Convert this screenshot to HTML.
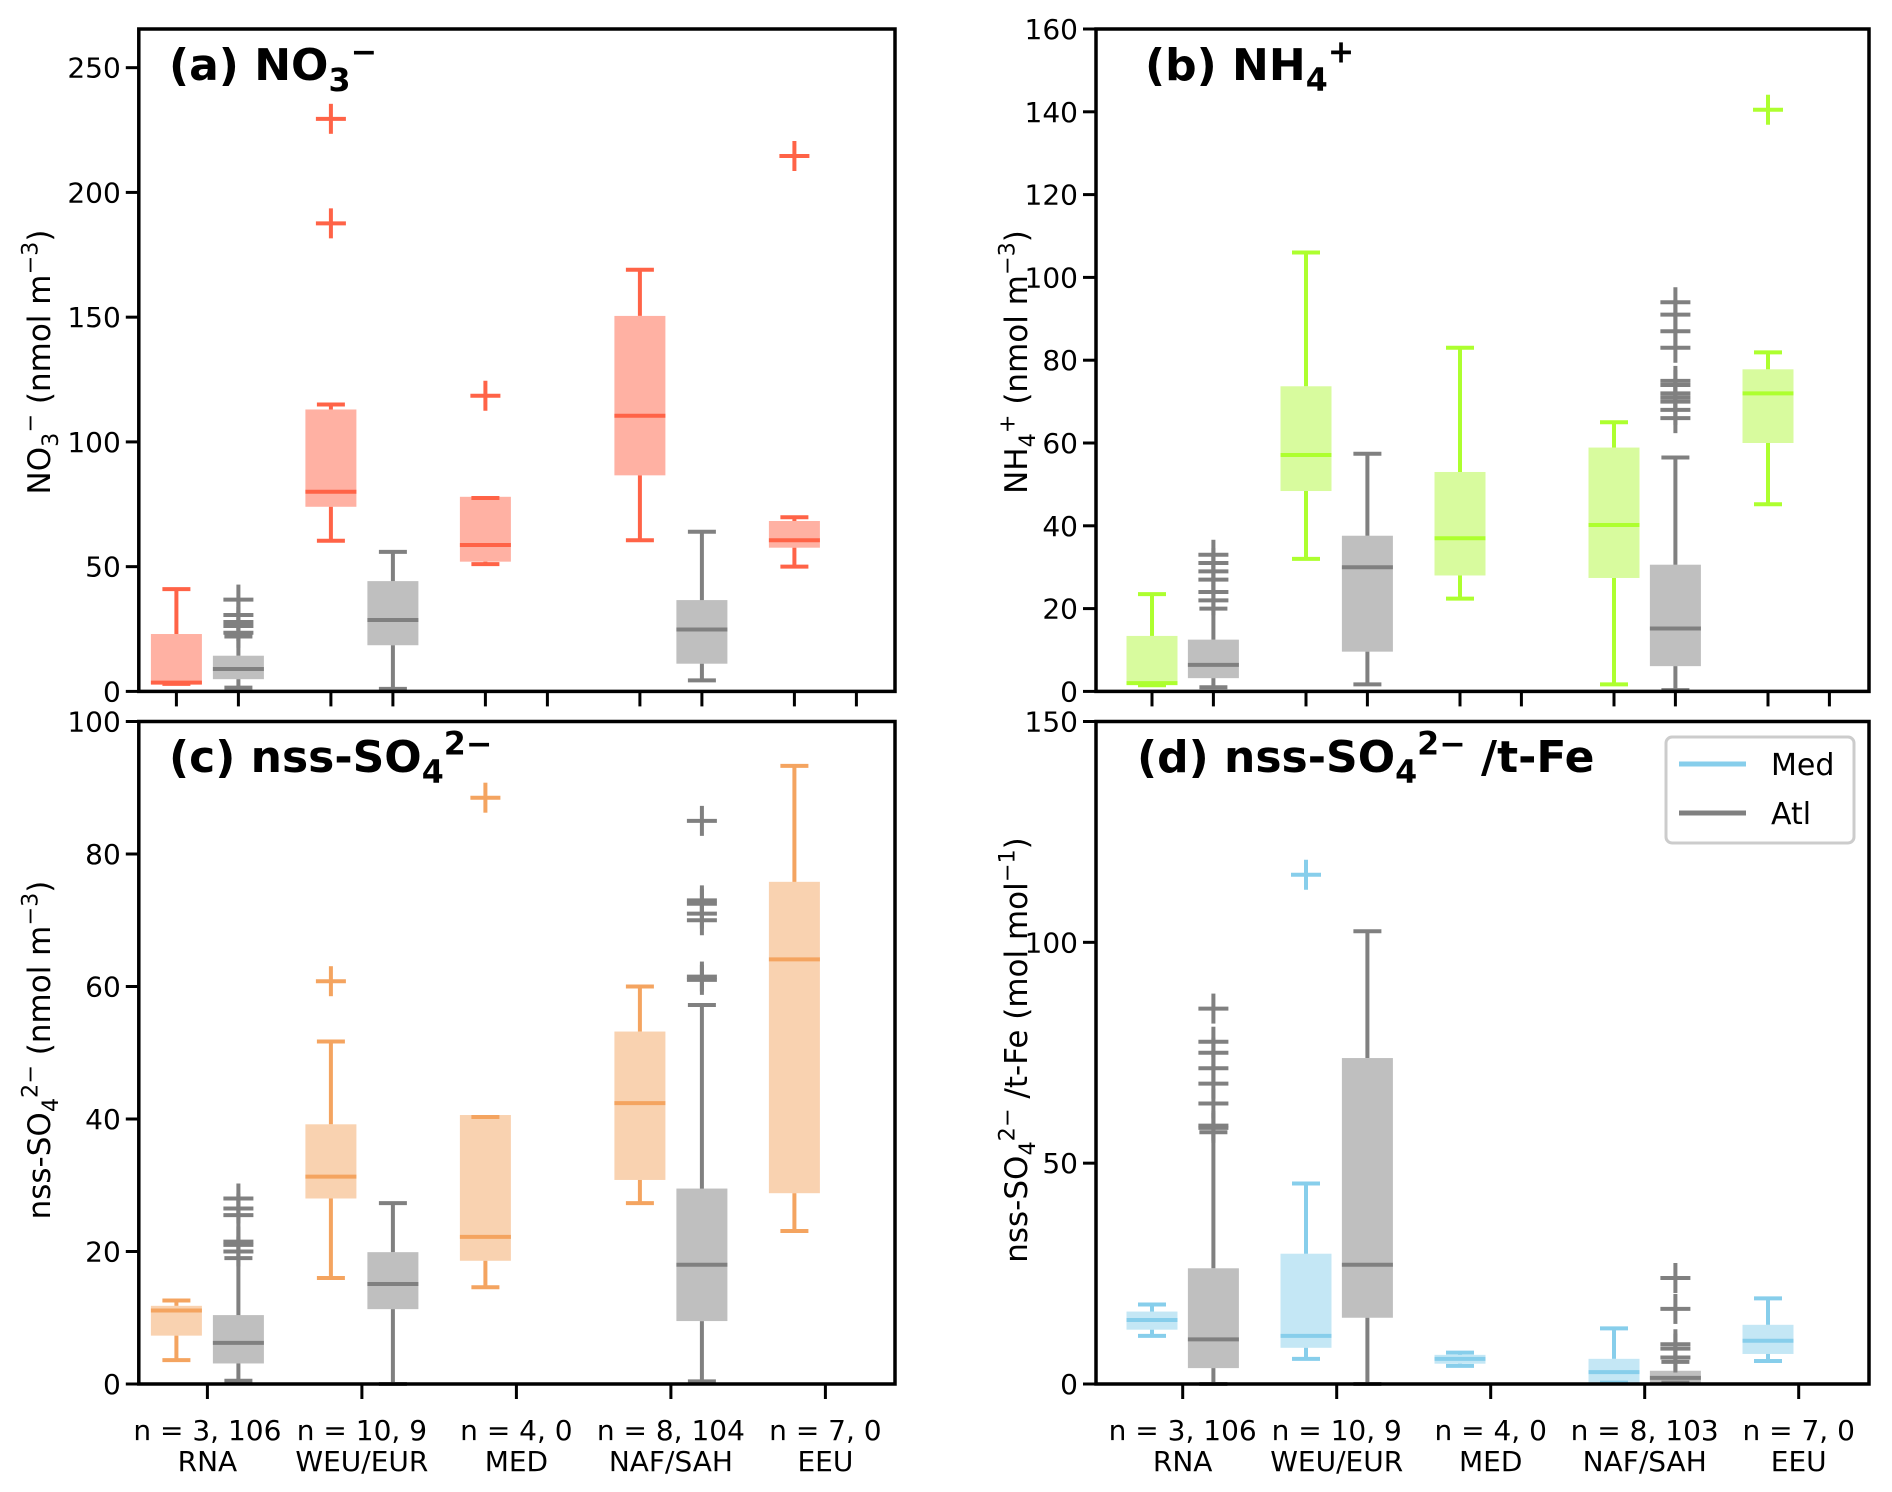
<!DOCTYPE html>
<html><head><meta charset="utf-8"><style>
html,body{margin:0;padding:0;background:#fff}
svg{display:block;font-family:"DejaVu Sans","Liberation Sans",sans-serif}
</style></head><body>
<svg id="fig" width="1892" height="1492" viewBox="0 0 1892 1492" xmlns="http://www.w3.org/2000/svg"></svg>
<script>
// ---------- data (stats = [whiskerLow, q1, median, q3, whiskerHigh]) ----------
const categories = ["RNA","WEU/EUR","MED","NAF/SAH","EEU"];
const countsTop = ["n = 3, 106","n = 10, 9","n = 4, 0","n = 8, 104","n = 7, 0"];
const countsBottom = ["n = 3, 106","n = 10, 9","n = 4, 0","n = 8, 103","n = 7, 0"];

const aMed = [[3,3,3.5,23,41],[60.4,74,80,113,115],[51,52,58.7,78,77.5],[60.6,86.6,110.5,150.5,169],[50,57.6,60.6,68.3,69.8]];
const aAtl = [[1.5,4.9,9,14.3,22],[1,18.5,28.6,44.2,55.9],null,[4.4,11.1,24.8,36.6,64],null];
const aMedFliers = [[],[229.5,187.6],[118.5],[],[214.6]];
const aAtlFliers = [[23.5,26.2,27.8,30.6,36.8],[],[],[],[]];

const bMed = [[1.5,1.7,2,13.4,23.5],[32,48.4,57.1,73.7,106],[22.4,28,37,53,83],[1.7,27.4,40.2,58.9,65],[45.2,60,72,77.8,81.9]];
const bAtl = [[1,3.2,6.4,12.5,20],[1.7,9.6,30,37.6,57.4],null,[0.3,6.1,15.2,30.6,56.5],null];
const bMedFliers = [[],[],[],[],[140.5]];
const bAtlFliers = [[22,24,27,29,31,33],[],[],[66,68,70,71,72,74,75,83,87,91,94],[]];

const cMed = [[3.6,7.3,11.1,11.8,12.6],[16,28,31.3,39.2,51.7],[14.6,18.6,22.2,40.6,40.3],[27.3,30.8,42.4,53.2,60],[23.1,28.8,64.1,75.8,93.3]];
const cAtl = [[0.5,3.1,6.2,10.4,19],[0,11.3,15.1,19.9,27.3],null,[0.4,9.5,18,29.5,57.2],null];
const cMedFliers = [[],[60.8],[88.5],[],[]];
const cAtlFliers = [[20,21,21.5,25.5,26.5,28],[],[],[61,61.5,70,71,72.5,73,85],[]];

const dMed = [[10.9,12.3,14.5,16.4,18],[5.7,8.2,10.9,29.5,45.4],[4.1,4.6,5.7,6.6,7.1],[0.3,0.3,2.7,5.7,12.6],[5.2,6.8,9.8,13.4,19.4]];
const dAtl = [[0,3.6,10.1,26.2,57],[0,15,27,73.8,102.5],null,[0.3,0.3,1.4,3,5],null];
const dMedFliers = [[],[115.3],[],[],[]];
const dAtlFliers = [[58,58.5,63.5,68,71.5,75,77.5,85],[],[],[6,8,9,17,24],[]];

const aTicks = [0,50,100,150,200,250];
const bTicks = [0,20,40,60,80,100,120,140,160];
const cTicks = [0,20,40,60,80,100];
const dTicks = [0,50,100,150];

// ---------- drawing ----------
const NS="http://www.w3.org/2000/svg";
const svg=document.getElementById('fig');
function mk(tag,attrs,parent){const e=document.createElementNS(NS,tag);for(const k in attrs)e.setAttribute(k,attrs[k]);(parent||svg).appendChild(e);return e;}

const panels=[
 {id:'a',L:138.8,R:895,T:29,B:691.4,ymax:265.5,ticks:aTicks,med:aMed,atl:aAtl,mf:aMedFliers,af:aAtlFliers,c:'#ff6347',f:'#ffb1a3',x0:176.4,step:154.5,off:62,pairTicks:true,
  title:[['(a) NO',0],['3',1],['−',2]],ylab:[['NO',0],['3',1],['−',2],['   (nmol m',0],['−3',2],[')',0]],tx:169,ty:80,lx:50,ly:362},
 {id:'b',L:1096,R:1869,T:29,B:691.4,ymax:160,ticks:bTicks,med:bMed,atl:bAtl,mf:bMedFliers,af:bAtlFliers,c:'#adff2f',f:'#d8fb9e',x0:1152,step:154,off:61.4,pairTicks:true,
  title:[['(b) NH',0],['4',1],['+',2]],ylab:[['NH',0],['4',1],['+',2],['   (nmol m',0],['−3',2],[')',0]],tx:1145,ty:80,lx:1027,ly:362},
 {id:'c',L:138.8,R:895,T:721.5,B:1384,ymax:100,ticks:cTicks,med:cMed,atl:cAtl,mf:cMedFliers,af:cAtlFliers,c:'#f4a460',f:'#f9d2b0',x0:176.4,step:154.5,off:62,pairTicks:false,labels:countsTop,
  title:[['(c) nss-SO',0],['4',1],['2−',2]],ylab:[['nss-SO',0],['4',1],['2−',2],['   (nmol m',0],['−3',2],[')',0]],tx:169,ty:772,lx:50,ly:1050},
 {id:'d',L:1096,R:1869,T:721.5,B:1384,ymax:150,ticks:dTicks,med:dMed,atl:dAtl,mf:dMedFliers,af:dAtlFliers,c:'#87ceeb',f:'#c4e7f5',x0:1152,step:154,off:61.4,pairTicks:false,labels:countsBottom,
  title:[['(d) nss-SO',0],['4',1],['2−',2],[' /t-Fe',0]],ylab:[['nss-SO',0],['4',1],['2−',2],[' /t-Fe  (mol mol',0],['−1',2],[')',0]],tx:1137,ty:772,lx:1027,ly:1050}
];

function rich(el,parts,size){
  let prev=0;
  parts.forEach(([t,k])=>{
    const ts=mk('tspan',{},el);
    const want = k===1? size*0.25 : k===2? -size*0.4 : 0;
    const dy = want - prev; prev = want;
    if(dy) ts.setAttribute('dy',dy);
    if(k) ts.setAttribute('font-size',size*0.72);
    ts.textContent=t;
  });
}

panels.forEach(p=>{
  const g=mk('g',{});
  
  
  const y=v=>p.B-(v/p.ymax)*(p.B-p.T);
  const xm=i=>p.x0+i*p.step;
  const xa=i=>p.x0+i*p.step+p.off;
  const W=51, CAP=28, LW=4;

  function box(s,x,col,fill,nm){
    if(!s) return;
    const bg=mk('g',{},g);
    
    
    mk('rect',{x:x-W/2,y:y(s[3]),width:W,height:Math.max(1,y(s[1])-y(s[3])),fill:fill,stroke:'none'},bg);
    mk('line',{x1:x,x2:x,y1:y(s[3]),y2:y(s[4]),stroke:col,'stroke-width':LW},bg);
    mk('line',{x1:x,x2:x,y1:y(s[1]),y2:y(s[0]),stroke:col,'stroke-width':LW},bg);
    mk('line',{x1:x-CAP/2,x2:x+CAP/2,y1:y(s[4]),y2:y(s[4]),stroke:col,'stroke-width':LW},bg);
    mk('line',{x1:x-CAP/2,x2:x+CAP/2,y1:y(s[0]),y2:y(s[0]),stroke:col,'stroke-width':LW},bg);
    mk('line',{x1:x-W/2,x2:x+W/2,y1:y(s[2]),y2:y(s[2]),stroke:col,'stroke-width':LW},bg);
  }
  function fl(arr,x,col,nm){
    arr.forEach(v=>{
      const pg=mk('g',{},g);
      
      
      mk('line',{x1:x-15,x2:x+15,y1:y(v),y2:y(v),stroke:col,'stroke-width':LW},pg);
      mk('line',{x1:x,x2:x,y1:y(v)-15,y2:y(v)+15,stroke:col,'stroke-width':LW},pg);
    });
  }
  categories.forEach((c,i)=>{
    box(p.med[i],xm(i),p.c,p.f,'med-box-'+i);
    box(p.atl[i],xa(i),'#808080','#bfbfbf','atl-box-'+i);
    fl(p.mf[i],xm(i),p.c,'med-outlier');
    fl(p.af[i],xa(i),'#808080','atl-outlier');
  });
  const fr=mk('rect',{x:p.L,y:p.T,width:p.R-p.L,height:p.B-p.T,fill:'none',stroke:'#000','stroke-width':3.5},g);
  
  
  p.ticks.forEach(v=>{
    mk('line',{x1:p.L-13,x2:p.L,y1:y(v),y2:y(v),stroke:'#000','stroke-width':3}, g);
    const t=mk('text',{x:p.L-18,y:y(v)+10,'text-anchor':'end','font-size':28,fill:'#000'},g);
    
    
    t.textContent=v;
  });
  categories.forEach((c,i)=>{
    const xs=p.pairTicks?[xm(i),xa(i)]:[(xm(i)+xa(i))/2];
    xs.forEach(x=>mk('line',{x1:x,x2:x,y1:p.B,y2:p.B+15,stroke:'#000','stroke-width':3},g));
    if(!p.pairTicks){
      const cx=(xm(i)+xa(i))/2;
      const t1=mk('text',{x:cx,y:p.B+56,'text-anchor':'middle','font-size':28},g);
      
      
      t1.textContent=p.labels[i];
      const t2=mk('text',{x:cx,y:p.B+87,'text-anchor':'middle','font-size':28},g);
      
      
      t2.textContent=c;
    }
  });
  const tt=mk('text',{x:p.tx,y:p.ty,'font-size':44,'font-weight':'bold'},g);
  
  
  rich(tt,p.title,44);
  const yl=mk('text',{x:0,y:0,'font-size':31,'text-anchor':'middle',transform:`translate(${p.lx},${p.ly}) rotate(-90)`},g);
  
  
  rich(yl,p.ylab,31);
});

const lg=mk('g',{});


mk('rect',{x:1666,y:737,width:188,height:106,rx:6,fill:'#fff',stroke:'#cccccc','stroke-width':3},lg);
const le1=mk('g',{},lg);


mk('line',{x1:1679,x2:1746,y1:764,y2:764,stroke:'#87ceeb','stroke-width':5},le1);
const lt1=mk('text',{x:1771,y:775,'font-size':30},le1);lt1.textContent='Med';
const le2=mk('g',{},lg);


mk('line',{x1:1679,x2:1746,y1:813,y2:813,stroke:'#808080','stroke-width':5},le2);
const lt2=mk('text',{x:1771,y:824,'font-size':30},le2);lt2.textContent='Atl';
</script>
</body></html>
